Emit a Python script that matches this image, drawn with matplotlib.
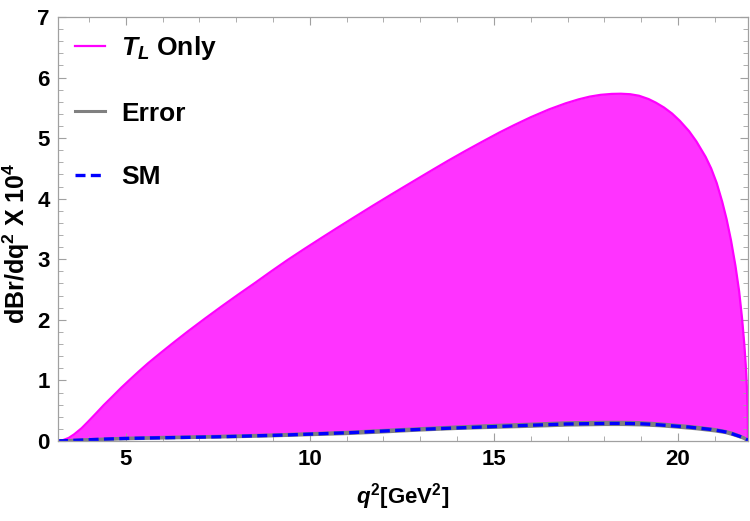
import matplotlib
matplotlib.use("Agg")
import matplotlib.pyplot as plt
from matplotlib.ticker import MultipleLocator

plt.rcParams["font.family"] = ["Liberation Sans", "DejaVu Sans"]
plt.rcParams["font.weight"] = "bold"
plt.rcParams["mathtext.fontset"] = "custom"
plt.rcParams["mathtext.rm"] = "Liberation Sans:bold"
plt.rcParams["mathtext.it"] = "Liberation Sans:bold:italic"
plt.rcParams["mathtext.bf"] = "Liberation Sans:bold"

# q^2 grid (GeV^2) and curves
q2 = [3.16, 3.3, 3.45, 3.6, 3.8, 3.98, 4.2, 4.4, 4.65, 4.88, 5.1, 5.35, 5.6,
      5.9, 6.3, 6.69, 7.15, 7.6, 8.05, 8.5, 8.95, 9.4, 9.85, 10.31, 10.75,
      11.21, 11.7, 12.2, 12.75, 13.33, 13.75, 14.2, 14.65, 15.14, 15.55,
      16.0, 16.5, 16.95, 17.3, 17.6, 17.9, 18.2, 18.45, 18.7, 18.94, 19.2,
      19.4, 19.62, 19.84, 20.05, 20.3, 20.5, 20.75, 20.9, 21.05, 21.2,
      21.32, 21.44, 21.56, 21.66, 21.74, 21.8, 21.84, 21.87, 21.89, 21.9]
tl_only = [0.0, 0.015, 0.05, 0.11, 0.21, 0.32, 0.46, 0.59, 0.74, 0.88, 1.005,
           1.145, 1.28, 1.43, 1.625, 1.81, 2.02, 2.22, 2.415, 2.605, 2.80,
           2.99, 3.17, 3.35, 3.52, 3.695, 3.88, 4.065, 4.265, 4.475, 4.625,
           4.78, 4.93, 5.09, 5.215, 5.345, 5.475, 5.575, 5.64, 5.685, 5.715,
           5.73, 5.733, 5.725, 5.70, 5.645, 5.585, 5.505, 5.405, 5.285, 5.115,
           4.945, 4.69, 4.50, 4.26, 3.95, 3.66, 3.31, 2.89, 2.47, 2.02, 1.60,
           1.25, 0.90, 0.50, 0.0]
sm = [0.0, 0.003, 0.006, 0.01, 0.015, 0.02, 0.025, 0.03, 0.035, 0.04, 0.043,
      0.046, 0.049, 0.052, 0.056, 0.06, 0.065, 0.07, 0.077, 0.085, 0.092,
      0.10, 0.11, 0.12, 0.13, 0.14, 0.155, 0.17, 0.185, 0.20, 0.21, 0.22,
      0.23, 0.24, 0.25, 0.26, 0.27, 0.28, 0.283, 0.286, 0.288, 0.29, 0.29,
      0.288, 0.285, 0.278, 0.27, 0.26, 0.25, 0.24, 0.23, 0.215, 0.20, 0.19,
      0.175, 0.16, 0.145, 0.125, 0.10, 0.08, 0.06, 0.045, 0.035, 0.025,
      0.015, 0.0]

# error band edges (thin grey lines around the SM curve)
q2_err = [3.16, 4.0, 5.0, 6.0, 7.0, 8.0, 9.0, 10.0, 11.0, 12.0, 13.0, 14.0,
          15.0, 16.0, 17.0, 18.0, 18.5, 19.0, 19.5, 20.0, 20.5, 21.0, 21.3,
          21.5, 21.7, 21.8, 21.9]
err_hi = [0.0, 0.023, 0.046, 0.06, 0.071, 0.084, 0.1, 0.121, 0.143, 0.175,
          0.204, 0.232, 0.257, 0.278, 0.302, 0.309, 0.309, 0.303, 0.283,
          0.257, 0.229, 0.19, 0.157, 0.123, 0.077, 0.05, 0.0]
err_lo = [0.0, 0.017, 0.036, 0.048, 0.059, 0.07, 0.084, 0.103, 0.121,
          0.149, 0.18, 0.206, 0.225, 0.242, 0.262, 0.271, 0.271, 0.265,
          0.251, 0.227, 0.201, 0.166, 0.137, 0.103, 0.063, 0.04, 0.0]

fig = plt.figure(figsize=(7.5, 5.21), dpi=100)
ax = fig.add_axes([0.0773, 0.1536, 0.92, 0.8138])

ax.fill_between(q2, sm, tl_only, color="#ff33ff", lw=0)
ax.plot(q2, tl_only, color="#ff00ff", lw=1.6, label=r"$T_L$ Only")
ax.plot(q2_err, err_hi, color="#808080", lw=2.2, label="Error")
ax.plot(q2_err, err_lo, color="#808080", lw=2.2)
ax.plot(q2, sm, color="#0000ff", lw=2.4, ls=(0, (3, 1.6)), label="SM")

ax.set_xlim(3.16, 21.9)
ax.set_ylim(0, 7)
ax.xaxis.set_major_locator(MultipleLocator(5))
ax.xaxis.set_minor_locator(MultipleLocator(1))
ax.yaxis.set_major_locator(MultipleLocator(1))
ax.yaxis.set_minor_locator(MultipleLocator(0.2))

for s in ax.spines.values():
    s.set_color("#a0a0a0")
    s.set_linewidth(0.9)
ax.tick_params(which="both", direction="in", top=True, right=True,
               color="#a0a0a0", labelsize=16, pad=6)
ax.tick_params(which="major", length=6, width=0.8)
ax.tick_params(which="minor", length=3.5, width=0.6)
for lab in ax.get_xticklabels() + ax.get_yticklabels():
    lab.set_fontweight("bold")

ax.set_xlabel(r"$q^2$[GeV$^2$]", fontsize=16, fontweight="bold", labelpad=8)
ax.set_ylabel(r"dBr/dq$^2$ X 10$^4$", fontsize=18, fontweight="bold")
ax.yaxis.set_label_coords(-0.037, 0.467)

leg = ax.legend(loc="upper left", bbox_to_anchor=(0.0, 1.0), frameon=False,
                fontsize=19, handlelength=1.15, handletextpad=0.6,
                labelspacing=1.5, borderaxespad=0.25, borderpad=0.4)
for t in leg.get_texts():
    t.set_fontweight("bold")

fig.savefig("out.png", dpi=100)
